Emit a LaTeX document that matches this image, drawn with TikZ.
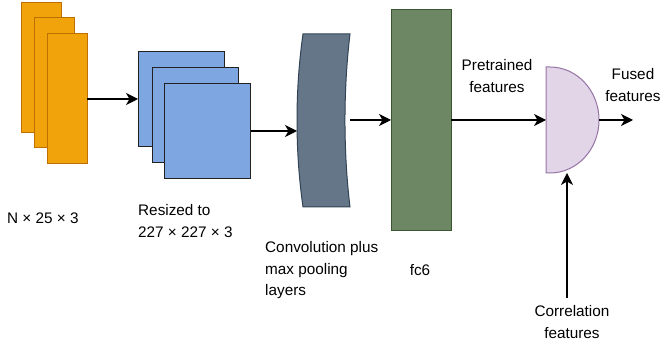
\documentclass[tikz,border=0pt]{standalone}
\usepackage{fontspec}
\setmainfont{Liberation Sans}
\usetikzlibrary{arrows.meta}
\definecolor{orangefill}{HTML}{F0A30A}
\definecolor{orangeline}{HTML}{BD7000}
\definecolor{bluefill}{HTML}{7EA6E0}
\definecolor{blueline}{HTML}{222222}
\definecolor{convfill}{HTML}{647687}
\definecolor{convline}{HTML}{314354}
\definecolor{fcfill}{HTML}{6D8764}
\definecolor{fcline}{HTML}{3A5431}
\definecolor{gatefill}{HTML}{E1D5E7}
\definecolor{gateline}{HTML}{9673A6}
\tikzset{
  box/.style={rectangle, inner sep=0pt, outer sep=0pt, line width=1pt},
  frame/.style={box, minimum width=40pt, minimum height=130pt, fill=orangefill, draw=orangeline},
  image/.style={box, minimum width=86pt, minimum height=95pt, fill=bluefill, draw=blueline},
  bounds/.style={rectangle, inner sep=0pt, outer sep=0pt},
  lbl/.style={inner sep=0pt, font=\fontsize{15.3}{21.5}\selectfont},
  flow/.style={line width=1.1pt, -{Stealth[length=12pt,width=12pt,inset=3.5pt]}}
}
\begin{document}
\begin{tikzpicture}[x=1pt, y=-1pt]
\useasboundingbox (0,0) rectangle (662,347);

% stacked input frames
\node[frame] (o1) at (41,68) {};
\node[frame] (o2) at (54,83) {};
\node[frame] (o3) at (67,99) {};

% stacked resized images
\node[image] (b1) at (181,99.5) {};
\node[image] (b2) at (195,115.5) {};
\node[image] (b3) at (207.5,131) {};

% convolution block (curved slab)
\node[bounds, minimum width=53pt, minimum height=172pt] (conv) at (323.5,120) {};
\draw[line width=1pt, fill=convfill, draw=convline]
  (303,34) -- (350,34) .. controls (343.3,90) and (343.3,151) .. (350,207)
  -- (303,207) .. controls (295,151) and (295,90) .. (303,34) -- cycle;

% fully connected layer
\node[box, minimum width=60pt, minimum height=221pt, fill=fcfill, draw=fcline] (fc) at (421,120.5) {};

% fusion gate
\node[bounds, minimum width=53pt, minimum height=106pt] (gate) at (572.5,120) {};
\draw[line width=1pt, fill=gatefill, draw=gateline]
  (546,67) -- (550,67) arc[start angle=90, end angle=-90, x radius=49, y radius=-53] -- (546,173) -- cycle;

% labels
\node[lbl, anchor=west] (tin) at (7,218) {N × 25 × 3};
\node[lbl, anchor=west, align=left] (tres) at (138,221) {Resized to\\227 × 227 × 3};
\node[lbl, anchor=west, align=left] (tconv) at (265,270.5) {Convolution plus\\max pooling\\layers};
\node[lbl] (tfc) at (420,270) {fc6};
\node[lbl, align=center] (tpre) at (497,76) {Pretrained\\features};
\node[lbl, align=center] (tfused) at (633,85) {Fused\\features};
\node[lbl, align=center] (tcorr) at (572,322) {Correlation\\features};

% connectors
\coordinate (corrstart) at (567,298);
\coordinate (out) at (633,120);
\draw[flow] (o3.east) -- (o3.east -| b1.west);
\draw[flow] (b3.east) -- (b3.east -| conv.west);
\draw[flow] (conv.east) -- (conv.east -| fc.west);
\draw[flow] (fc.east |- gate.west) -- (gate.west);
\draw[flow] (gate.east) -- (out);
\draw[flow] (corrstart) -- (corrstart |- gate.south);
\end{tikzpicture}
\end{document}
